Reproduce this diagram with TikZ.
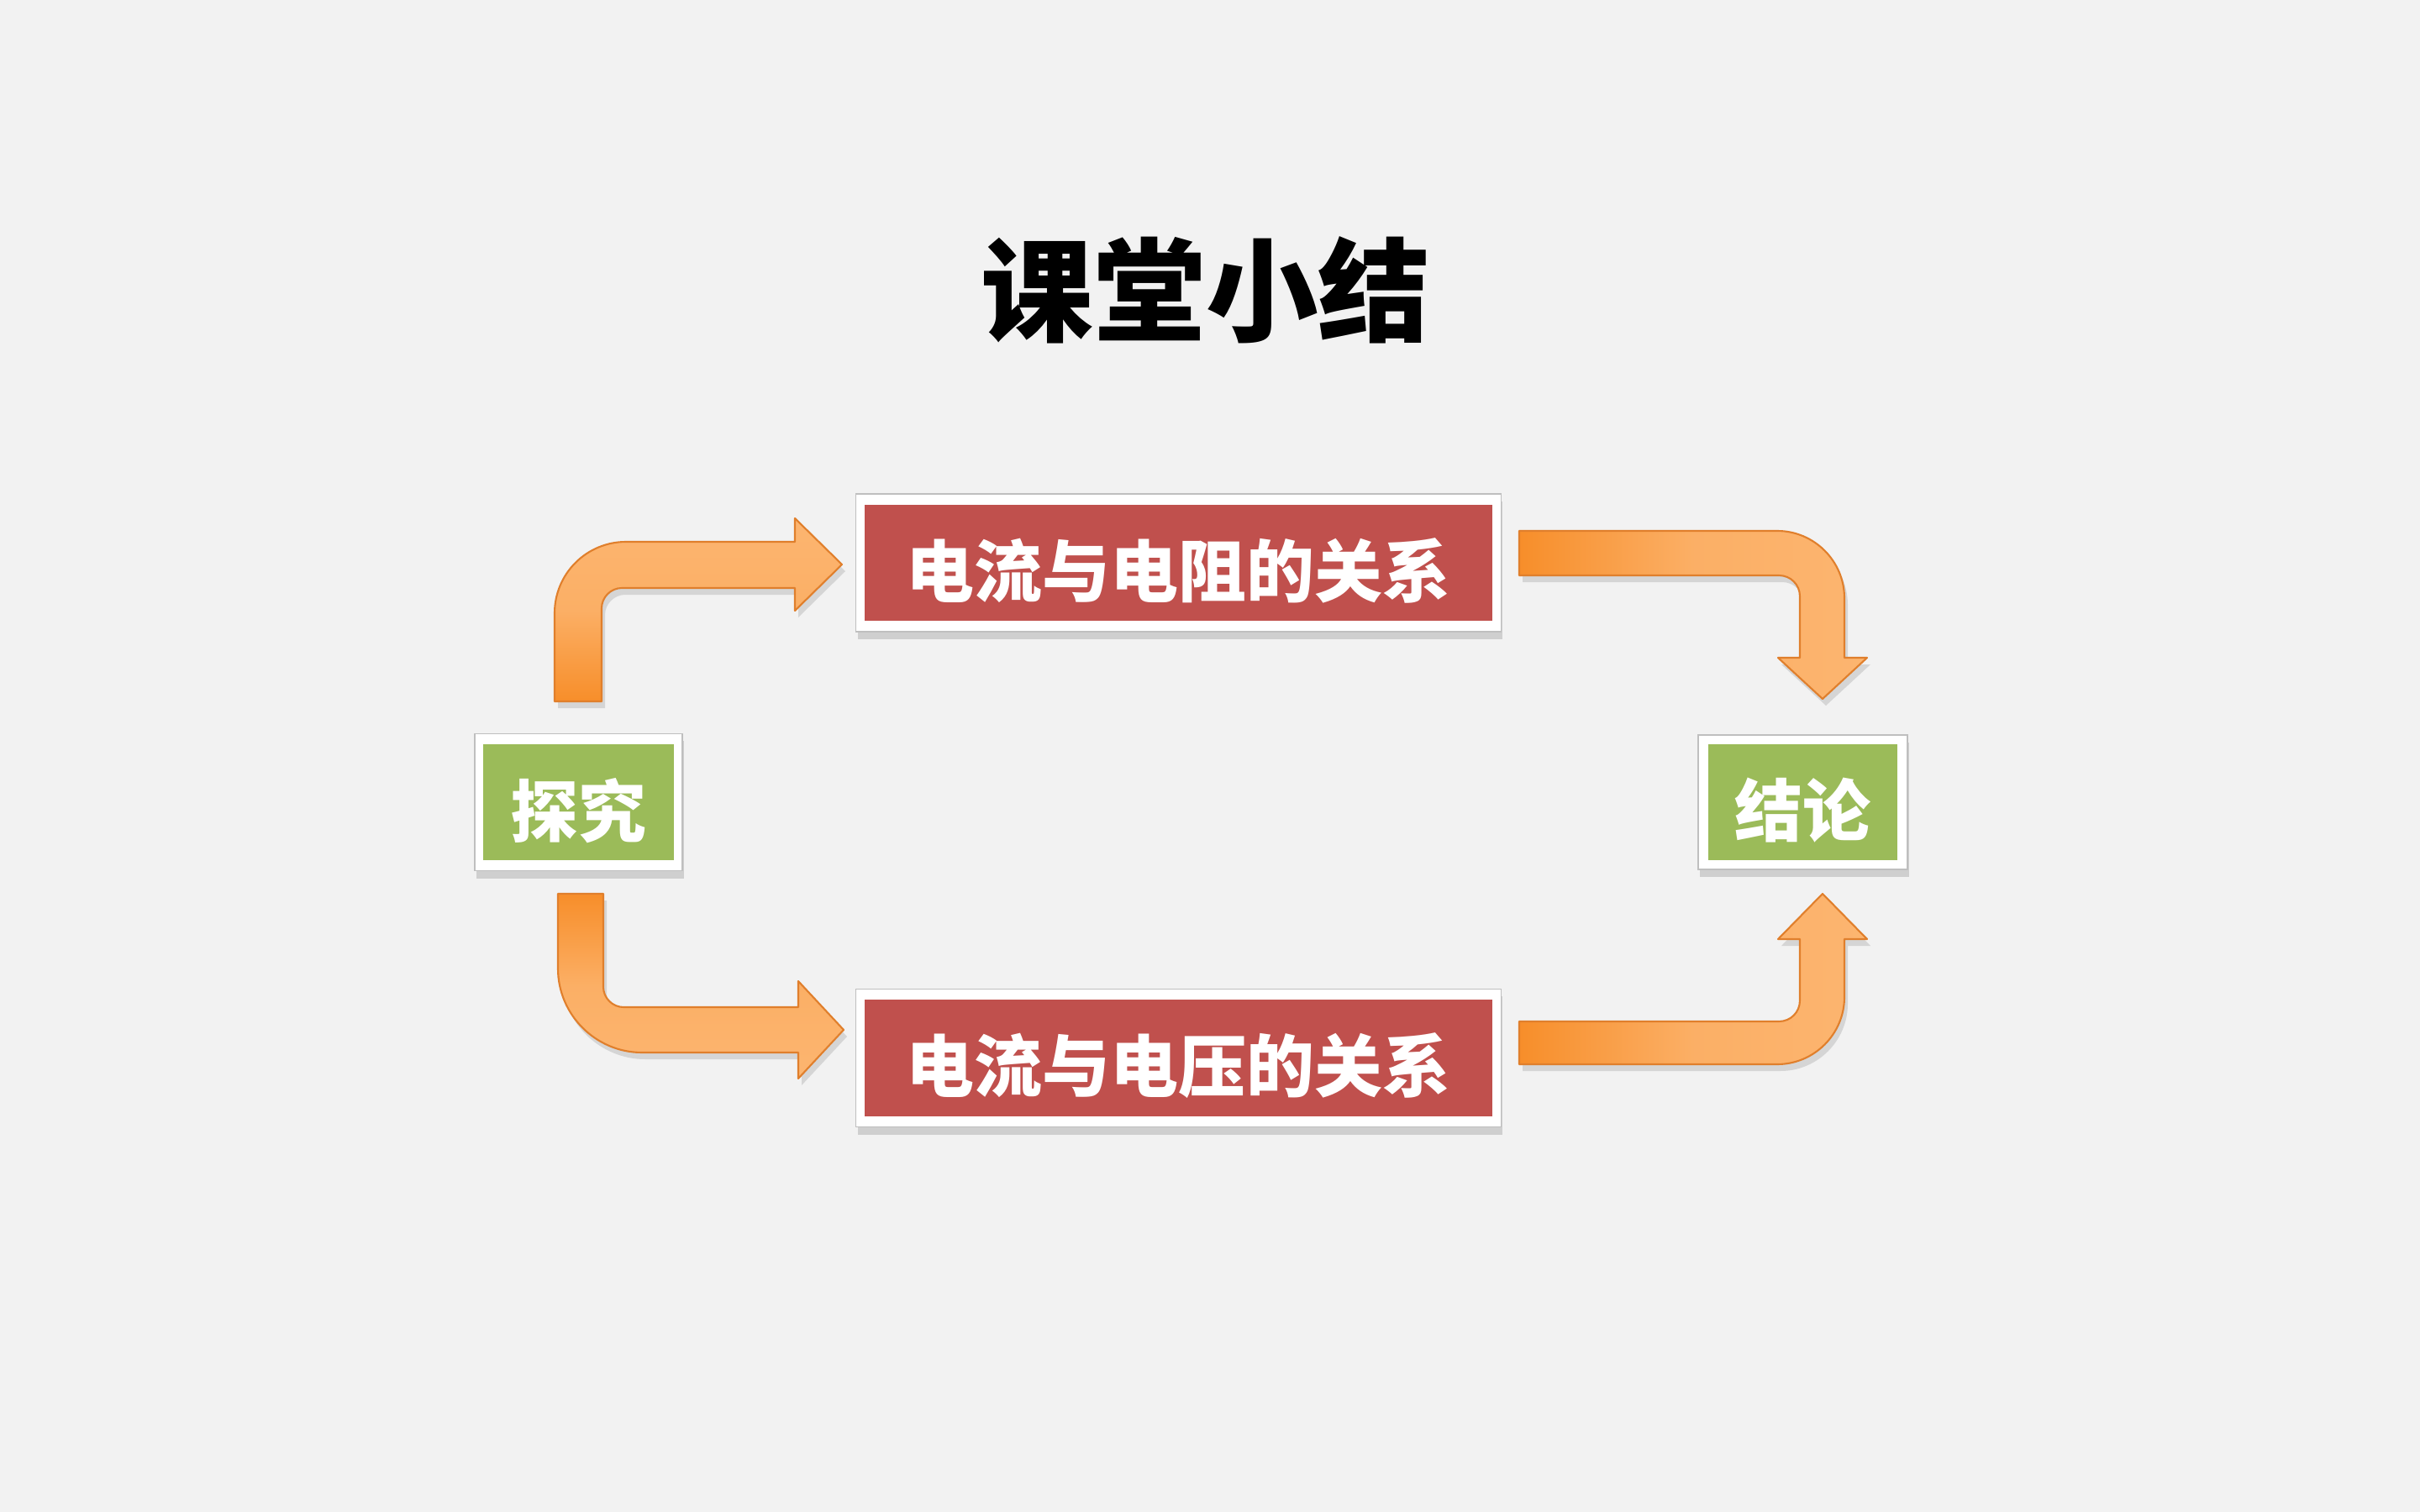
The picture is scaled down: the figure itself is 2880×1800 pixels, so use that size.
\documentclass[tikz,border=0pt]{standalone}
\usepackage{fontspec}
\setmainfont{Noto Sans CJK SC}
\usetikzlibrary{shadows}
\definecolor{bgcol}{HTML}{F2F2F2}
\definecolor{boxred}{HTML}{C0504D}
\definecolor{boxgreen}{HTML}{9BBB59}
\definecolor{ordark}{HTML}{F78E2A}
\definecolor{orlight}{HTML}{FCB570}
\definecolor{oredge}{HTML}{E07F2C}
\newcommand{\lowtext}[2]{\raisebox{-#1}[\height][\depth]{#2}}
\tikzset{
  frame/.style={rectangle, fill=white, draw=black!25, line width=0.4pt, inner sep=0pt,
    drop shadow={shadow xshift=0.2mm, shadow yshift=-0.9mm, opacity=0.3}},
  redbox/.style={rectangle, fill=boxred, inner sep=0pt, minimum width=7.46cm, minimum height=1.38cm,
    text=white, font=\fontsize{23pt}{23pt}\selectfont\bfseries},
  greenbox/.style={rectangle, fill=boxgreen, inner sep=0pt, minimum width=2.26cm, minimum height=1.38cm,
    text=white, font=\fontsize{23pt}{23pt}\selectfont\bfseries},
  bentarrow/.style={draw=oredge, line width=0.6pt, line join=round,
    drop shadow={shadow xshift=0.4mm, shadow yshift=-0.8mm, opacity=0.25}},
  titletext/.style={font=\fontsize{38pt}{38pt}\selectfont\bfseries, text=black}
}
\begin{document}
\begin{tikzpicture}[x=0.01cm,y=-0.01cm]
\path[fill=bgcol] (0,0) rectangle (2880,1800);
\useasboundingbox (0,0) rectangle (2880,1800);

% title
\node[titletext] (title) at (1435,345) {课堂小结};

% boxes
\node[frame, minimum width=7.67cm, minimum height=1.64cm] (r1f) at (1402.5,670) {};
\node[redbox] (r1) at (1402.5,670) {\lowtext{0.09cm}{电流与电阻的关系}};
\node[frame, minimum width=7.67cm, minimum height=1.64cm] (r2f) at (1402.5,1259.5) {};
\node[redbox] (r2) at (1402.5,1259.5) {\lowtext{0.09cm}{电流与电压的关系}};
\node[frame, minimum width=2.47cm, minimum height=1.63cm] (g1f) at (688.5,955) {};
\node[greenbox] (g1) at (688.5,955) {\lowtext{0.1cm}{探究}};
\node[frame, minimum width=2.49cm, minimum height=1.6cm] (g2f) at (2145.5,955) {};
\node[greenbox, minimum width=2.25cm] (g2) at (2145.5,955) {\lowtext{0.1cm}{结论}};

% top-left arrow
\path[bentarrow, top color=orlight, bottom color=ordark, middle color=orlight!85!ordark]
  (660,835) -- (660,730) .. controls (660,683) and (698,645) .. (745,645)
  -- (946,645) -- (946,617) -- (1002,672) -- (946,727) -- (946,700)
  -- (740,700) .. controls (727,700) and (716,711) .. (716,724) -- (716,835) -- cycle;

% bottom-left arrow
\path[bentarrow, top color=ordark, bottom color=orlight, middle color=orlight!85!ordark]
  (664,1064) -- (664,1153) .. controls (664,1208) and (709,1253) .. (764,1253)
  -- (950,1253) -- (950,1284) -- (1004,1226) -- (950,1168) -- (950,1199)
  -- (742,1199) .. controls (729,1199) and (718,1188) .. (718,1175) -- (718,1064) -- cycle;

% top-right arrow
\path[bentarrow, left color=ordark, right color=orlight, middle color=orlight!85!ordark]
  (1808,632) -- (2115,632) .. controls (2159,632) and (2195,668) .. (2195,712)
  -- (2195,783) -- (2222,783) -- (2169,832) -- (2116,783) -- (2142,783)
  -- (2142,710) .. controls (2142,696) and (2131,685) .. (2117,685) -- (1808,685) -- cycle;

% bottom-right arrow
\path[bentarrow, left color=ordark, right color=orlight, middle color=orlight!85!ordark]
  (1808,1216) -- (2117,1216) .. controls (2131,1216) and (2142,1205) .. (2142,1191)
  -- (2142,1118) -- (2116,1118) -- (2169,1064) -- (2222,1118) -- (2195,1118)
  -- (2195,1187) .. controls (2195,1231) and (2159,1267) .. (2115,1267) -- (1808,1267) -- cycle;
\end{tikzpicture}
\end{document}
